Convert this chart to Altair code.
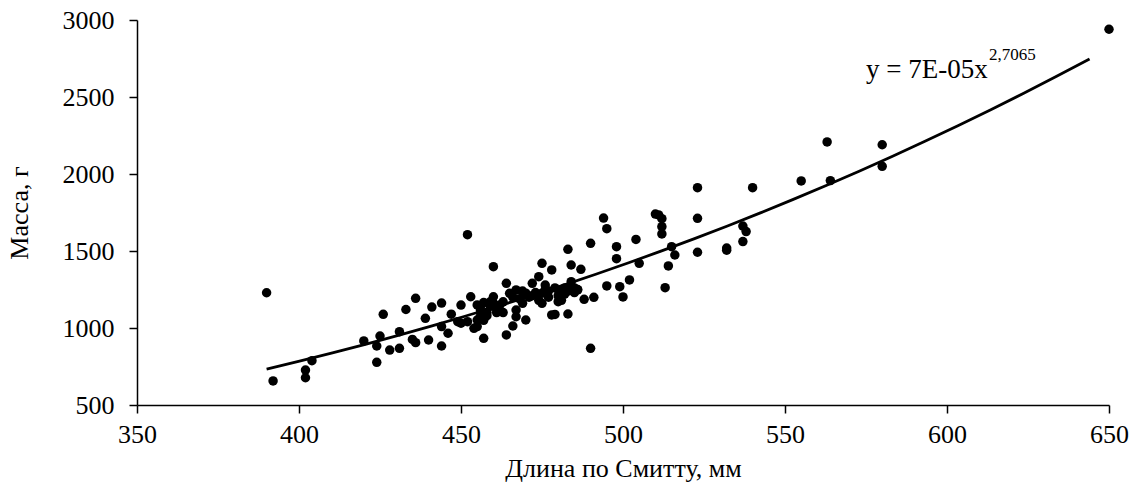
import altair as alt
import pandas as pd

# Длина по Смитту, мм
length = [390, 392, 402, 402, 404, 420, 424, 424, 425, 426, 428, 431, 431, 433, 435, 436, 436,
          439, 440, 441, 444, 444, 444, 446, 447, 449, 450, 450, 452, 452, 453, 454, 455, 455,
          456, 456, 457, 457, 458, 459, 460, 460, 460, 461, 462, 463, 464, 464, 465, 466, 467,
          467, 467, 468, 469, 470, 470, 471, 472, 473, 474, 475, 475, 475, 476, 477, 478, 478,
          479, 480, 481, 482, 483, 483, 484, 484, 485, 486, 487, 488, 490, 490, 491, 494, 495,
          495, 498, 498, 499, 500, 502, 504, 505, 510, 511, 512, 512, 512, 513, 514, 515, 516,
          523, 523, 523, 532, 532, 537, 538, 537, 540, 555, 563, 564, 580, 580, 650,
          457, 458, 459, 461, 463, 466, 469, 472, 474, 476, 477, 479, 480, 481, 482, 483, 484,
          485, 486, 455, 456]
# Масса, г
mass = [1229, 656, 727, 677, 788, 916, 777, 883, 948, 1089, 857, 976, 868, 1120, 926, 905, 1193,
        1063, 922, 1136, 1162, 1009, 883, 966, 1090, 1041, 1149, 1031, 1606, 1041, 1203, 998, 1009, 1052,
        1117, 1075, 1165, 933, 1100, 1140, 1203, 1398, 1161, 1120, 1149, 1100, 955, 1290, 1225, 1013, 1073,
        1117, 1247, 1190, 1160, 1052, 1226, 1200, 1290, 1230, 1333, 1420, 1160, 1226, 1279, 1200, 1377, 1085,
        1088, 1171, 1247, 1220, 1511, 1091, 1409, 1301, 1260, 1247, 1381, 1186, 1550, 868, 1199, 1714, 1645,
        1273, 1528, 1450, 1268, 1202, 1312, 1575, 1420, 1740, 1734, 1710, 1658, 1611, 1262, 1403, 1528, 1474,
        1911, 1712, 1492, 1519, 1505, 1662, 1626, 1561, 1911, 1955, 2208, 1957, 2190, 2050, 2940,
        1050, 1080, 1170, 1100, 1170, 1200, 1240, 1210, 1180, 1250, 1240, 1260, 1210, 1180, 1260, 1240, 1270,
        1230, 1250, 1150, 1140]

x_ticks = [350, 400, 450, 500, 550, 600, 650]
y_ticks = [500, 1000, 1500, 2000, 2500, 3000]
trend_extent = [390, 644]
eq_main = ["y = 7E-05x"]
eq_sup = ["2,7065"]

df = pd.DataFrame({"length": length, "mass": mass})

FONT = "Liberation Serif"

xenc = alt.X("length:Q", title="Длина по Смитту, мм",
             scale=alt.Scale(domain=[350, 650], nice=False, zero=False),
             axis=alt.Axis(values=x_ticks, format="d", labelFlush=False,
                           labelPadding=8, titlePadding=8))
yenc = alt.Y("mass:Q", title="Масса, г",
             scale=alt.Scale(domain=[500, 3000], nice=False, zero=False),
             axis=alt.Axis(values=y_ticks, format="d", labelFlush=False,
                           labelPadding=15, titlePadding=30))

points = alt.Chart(df).mark_circle(size=90, color="black", opacity=1).encode(x=xenc, y=yenc)

trend = alt.Chart(df).transform_regression(
    "length", "mass", method="pow", extent=trend_extent
).mark_line(color="black", strokeWidth=2.8).encode(x="length:Q", y="mass:Q")

lbl_main = alt.Chart(pd.DataFrame({"t": eq_main})).mark_text(
    align="left", baseline="alphabetic", font=FONT, fontSize=27, color="black"
).encode(x=alt.value(729), y=alt.value(58), text="t:N")

lbl_sup = alt.Chart(pd.DataFrame({"t": eq_sup})).mark_text(
    align="left", baseline="alphabetic", font=FONT, fontSize=17, color="black"
).encode(x=alt.value(852), y=alt.value(40), text="t:N")

chart = alt.layer(points, trend, lbl_main, lbl_sup).properties(
    width=972, height=385,
    autosize=alt.AutoSizeParams(type="none"),
    padding={"left": 137, "top": 20, "right": 30, "bottom": 86},
    background="white",
).configure_view(stroke=None).configure_axis(
    grid=False,
    domainColor="black", domainWidth=1.5,
    tickColor="black", tickWidth=1.5, tickSize=8,
    labelFont=FONT, labelFontSize=26, labelColor="black",
    titleFont=FONT, titleFontSize=26, titleFontWeight="normal", titleColor="black",
)

chart.save("out.html", embed_options={"renderer": "svg", "actions": False})
